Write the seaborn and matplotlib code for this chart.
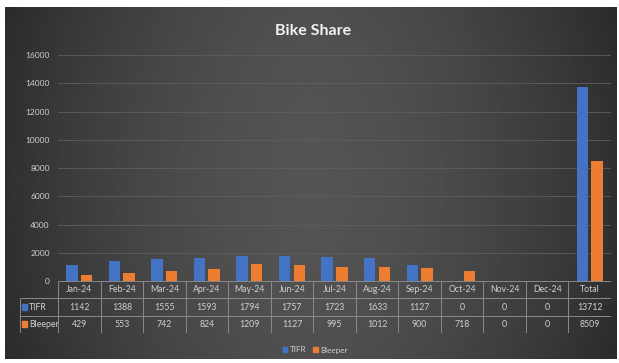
import matplotlib
matplotlib.use("Agg")
import matplotlib.pyplot as plt
import matplotlib.patches as mpatches
import seaborn as sns
import pandas as pd
import numpy as np

# data
months = ["Jan-24", "Feb-24", "Mar-24", "Apr-24", "May-24", "Jun-24", "Jul-24",
          "Aug-24", "Sep-24", "Oct-24", "Nov-24", "Dec-24", "Total"]
tifr = [1142, 1388, 1555, 1593, 1794, 1757, 1723, 1633, 1127, 0, 0, 0, 13712]
bleeper = [429, 553, 742, 824, 1209, 1127, 995, 1012, 900, 718, 0, 0, 8509]
series = ["TIFR", "Bleeper"]
yticks = [0, 2000, 4000, 6000, 8000, 10000, 12000, 14000, 16000]

blue = "#4472C4"
orange = "#ED7D31"
txt = "#d0d0d0"
line = "#8a8a8a"

df = pd.DataFrame({
    "month": months * 2,
    "value": tifr + bleeper,
    "series": ["TIFR"] * len(months) + ["Bleeper"] * len(months),
})

sns.set_style("white")
plt.rcParams["font.family"] = ["Lato", "DejaVu Sans"]

W, H = 619, 363
fig = plt.figure(figsize=(W / 100, H / 100), dpi=100)
fig.patch.set_facecolor("white")

# dark gradient chart area
bg = fig.add_axes([5 / W, 1 - 359 / H, 612 / W, 352 / H])
gx = np.linspace(-1, 1, 300)
gy = np.linspace(-1, 1, 150)
X, Y = np.meshgrid(gx, gy)
grad = 0.19 + 0.14 * (1 - np.abs(X) ** 1.6) - 0.02 * Y ** 2
bg.imshow(grad, cmap="gray", vmin=0, vmax=1, aspect="auto", extent=[0, 1, 0, 1])
bg.set_axis_off()

# bars
x0, x1 = 58, 611
ax = fig.add_axes([x0 / W, 1 - 281 / H, (x1 - x0) / W, (281 - 55) / H])
sns.barplot(data=df, x="month", y="value", hue="series", hue_order=series,
            palette=[blue, orange], width=0.69, gap=0.22, ax=ax, legend=False,
            saturation=1, linewidth=0)
ax.set_facecolor("none")
ax.set_ylim(0, 16000)
ax.set_xlim(-0.5, len(months) - 0.5)
ax.set_yticks(yticks)
ax.set_yticklabels([str(v) for v in yticks], color=txt, fontsize=6)
ax.set_xticks([])
ax.set_xlabel("")
ax.set_ylabel("")
ax.tick_params(axis="y", length=0, pad=6)
ax.yaxis.grid(True, color="#5e5e5e", lw=0.6)
ax.set_axisbelow(True)
for s in ax.spines.values():
    s.set_visible(False)

fig.text(0.505, 1 - 31 / H, "Bike Share", ha="center", va="center",
         color="#f2f2f2", fontsize=11.5, fontweight="bold")

# data table under the bars
t0, tb = 20, 333
tab = fig.add_axes([t0 / W, 1 - tb / H, (x1 - t0) / W, (tb - 281) / H])
left = -0.5 - (x0 - t0) / ((x1 - x0) / len(months))
right = len(months) - 0.5
tab.set_xlim(left, right)
tab.set_ylim(3, 0)
tab.set_axis_off()
lk = dict(color=line, lw=0.7)
tab.hlines(0, -0.5, right, **lk)
tab.hlines([1, 2, 3], left, right, **lk)
tab.vlines([i - 0.5 for i in range(len(months) + 1)], 0, 3, **lk)
tab.vlines(left, 1, 3, **lk)
fs = 6.3
for i, m in enumerate(months):
    tab.text(i, 0.5, m, ha="center", va="center", color=txt, fontsize=fs)
    tab.text(i, 1.5, str(tifr[i]), ha="center", va="center", color=txt, fontsize=fs)
    tab.text(i, 2.5, str(bleeper[i]), ha="center", va="center", color=txt, fontsize=fs)
for r, (name, c) in enumerate(zip(series, [blue, orange])):
    tab.add_patch(mpatches.Rectangle((left + 0.05, r + 1.32), 0.12, 0.36, color=c))
    tab.text(left + 0.22, r + 1.5, name, ha="left", va="center", color=txt, fontsize=fs)

handles = [mpatches.Patch(color=blue, label="TIFR"),
           mpatches.Patch(color=orange, label="Bleeper")]
fig.legend(handles=handles, loc="center", bbox_to_anchor=(315 / W, 1 - 350 / H),
           ncol=2, frameon=False, fontsize=5.8, labelcolor=txt,
           handlelength=0.6, handleheight=0.6, handletextpad=0.3, columnspacing=0.8)

fig.savefig("out.png", dpi=100, facecolor=fig.get_facecolor())
